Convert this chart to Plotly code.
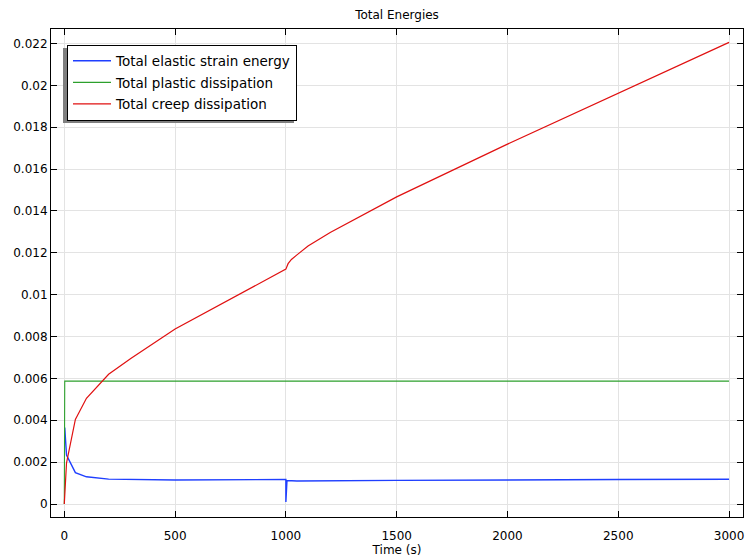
import plotly.graph_objects as go

# Data
t_elastic = [2, 10, 50, 100, 200, 500, 1000, 1000, 1005, 1050, 1500, 2000, 2500, 3000]
e_elastic = [0.00365, 0.00234, 0.00150, 0.00130, 0.00119, 0.00115, 0.00117, 0.00010,
             0.00112, 0.00110, 0.00113, 0.00116, 0.00117, 0.00118]

t_plastic = [0, 2, 1000, 3000]
e_plastic = [0.0, 0.00587, 0.00587, 0.00587]

t_creep = [0, 10, 50, 100, 200, 300, 500, 1000, 1010, 1025, 1050, 1100, 1200, 1300,
           1400, 1500, 2000, 2500, 3000]
e_creep = [0.0, 0.00196, 0.00404, 0.00505, 0.00620, 0.00695, 0.00836, 0.01122, 0.01148,
           0.01168, 0.01190, 0.01232, 0.01297, 0.01355, 0.01412, 0.01467, 0.01719,
           0.01962, 0.02205]

y_tickvals = [0, 0.002, 0.004, 0.006, 0.008, 0.01, 0.012, 0.014, 0.016, 0.018, 0.02, 0.022]
y_ticktext = ["0", "0.002", "0.004", "0.006", "0.008", "0.01", "0.012", "0.014",
              "0.016", "0.018", "0.02", "0.022"]
x_tickvals = [0, 500, 1000, 1500, 2000, 2500, 3000]

W, H = 747, 558
ML, MR, MT, MB = 51, 4, 29, 41
PW, PH = W - ML - MR, H - MT - MB

def px_to_paper_x(px):
    return (px - ML) / PW

def px_to_paper_y(py):
    return 1 - (py - MT) / PH

FONT = "DejaVu Sans"

fig = go.Figure()
fig.add_trace(go.Scatter(x=t_elastic, y=e_elastic, mode="lines",
                         name="Total elastic strain energy", legendgroup="a",
                         line=dict(color="#1f3fff", width=1.4)))
fig.add_trace(go.Scatter(x=t_plastic, y=e_plastic, mode="lines",
                         name="Total plastic dissipation", legendgroup="b",
                         line=dict(color="#2ca02c", width=1.1)))
fig.add_trace(go.Scatter(x=t_creep, y=e_creep, mode="lines",
                         name="Total creep dissipation", legendgroup="c",
                         line=dict(color="#e01010", width=1.2)))

# legend shadow
fig.add_shape(type="rect", xref="paper", yref="paper",
              x0=px_to_paper_x(63), x1=px_to_paper_x(294),
              y0=px_to_paper_y(123), y1=px_to_paper_y(48),
              fillcolor="#7f7f7f", line=dict(width=0), layer="above")

fig.update_layout(
    width=W, height=H,
    margin=dict(l=ML, r=MR, t=MT, b=MB),
    paper_bgcolor="white", plot_bgcolor="white",
    font=dict(family=FONT, size=12, color="black"),
    title=dict(text="Total Energies", x=397 / W,
               xanchor="center", y=1 - 14.5 / H, yanchor="middle",
               font=dict(family=FONT, size=12, color="black")),
    showlegend=True,
    legend=dict(x=px_to_paper_x(67), y=px_to_paper_y(44.5), xanchor="left", yanchor="top",
                bgcolor="white", bordercolor="black", borderwidth=1,
                font=dict(family=FONT, size=13.5, color="black"),
                itemwidth=38, tracegroupgap=1),
    xaxis=dict(range=[-60, 3063], tickvals=x_tickvals, ticks="inside", ticklen=6,
               tickcolor="black", showline=True, linecolor="black", linewidth=1,
               mirror="ticks", showgrid=True, gridcolor="#e3e3e3", gridwidth=1,
               zeroline=False, ticklabelstandoff=8,
               title=dict(text="Time (s)", standoff=2,
                          font=dict(family=FONT, size=12)),
               tickfont=dict(family=FONT, size=12)),
    yaxis=dict(range=[-0.00062, 0.02269], tickvals=y_tickvals, ticktext=y_ticktext,
               ticks="inside", ticklen=6, tickcolor="black", showline=True,
               linecolor="black", linewidth=1, mirror="ticks", showgrid=True,
               gridcolor="#e3e3e3", gridwidth=1, zeroline=False,
               tickfont=dict(family=FONT, size=12)),
)

fig.write_html("out.html")
